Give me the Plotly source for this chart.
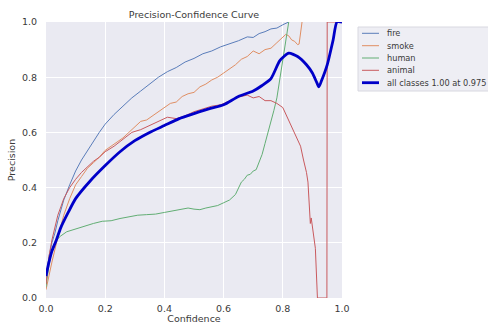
import plotly.graph_objects as go

# ---------------- data ----------------
fire_c = [0.0, 0.005, 0.01, 0.02, 0.03, 0.04, 0.05, 0.06, 0.08, 0.1, 0.12, 0.14, 0.16, 0.18, 0.2,
          0.23, 0.26, 0.29, 0.32, 0.35, 0.38, 0.41, 0.44, 0.47, 0.5, 0.53, 0.56, 0.59, 0.62, 0.65,
          0.68, 0.7, 0.72, 0.74, 0.76, 0.78, 0.8, 0.82]
fire_p = [0.07, 0.11, 0.15, 0.2, 0.235, 0.28, 0.32, 0.355, 0.41, 0.46, 0.5, 0.535, 0.57, 0.6, 0.63,
          0.665, 0.695, 0.725, 0.75, 0.775, 0.8, 0.82, 0.835, 0.855, 0.868, 0.885, 0.895, 0.91, 0.92,
          0.932, 0.946, 0.944, 0.958, 0.965, 0.975, 0.978, 0.99, 1.0]

smoke_c = [0.0, 0.005, 0.01, 0.02, 0.03, 0.04, 0.05, 0.06, 0.08, 0.1, 0.12, 0.14, 0.16, 0.18, 0.2,
           0.22, 0.24, 0.26, 0.28, 0.3, 0.32, 0.34, 0.36, 0.38, 0.4, 0.42, 0.44, 0.46, 0.48, 0.5,
           0.52, 0.54, 0.56, 0.58, 0.6, 0.62, 0.64, 0.66, 0.68, 0.7, 0.72, 0.74, 0.76, 0.78, 0.8,
           0.81, 0.82, 0.83, 0.84, 0.85, 0.855, 0.86, 0.865]
smoke_p = [0.03, 0.05, 0.08, 0.13, 0.18, 0.22, 0.26, 0.3, 0.36, 0.41, 0.44, 0.47, 0.49, 0.51, 0.535,
           0.55, 0.565, 0.58, 0.6, 0.62, 0.64, 0.645, 0.66, 0.675, 0.69, 0.705, 0.71, 0.73, 0.74,
           0.745, 0.765, 0.775, 0.79, 0.8, 0.815, 0.83, 0.845, 0.865, 0.875, 0.895, 0.885, 0.9,
           0.905, 0.925, 0.945, 0.955, 0.95, 0.935, 0.93, 0.918, 0.92, 0.96, 1.0]

human_c = [0.0, 0.005, 0.01, 0.02, 0.03, 0.04, 0.05, 0.07, 0.1, 0.13, 0.16, 0.19, 0.22, 0.25, 0.28,
           0.31, 0.34, 0.37, 0.4, 0.43, 0.46, 0.48, 0.5, 0.52, 0.54, 0.56, 0.58, 0.6, 0.62, 0.64,
           0.65, 0.66, 0.67, 0.68, 0.69, 0.7, 0.71, 0.72, 0.73, 0.74, 0.75, 0.76, 0.77, 0.78, 0.79,
           0.8, 0.81, 0.82]
human_p = [0.04, 0.08, 0.12, 0.17, 0.2, 0.215, 0.225, 0.24, 0.25, 0.262, 0.27, 0.278, 0.28, 0.288,
           0.295, 0.3, 0.302, 0.304, 0.31, 0.315, 0.32, 0.326, 0.322, 0.32, 0.326, 0.33, 0.335, 0.345,
           0.355, 0.375, 0.4, 0.42, 0.43, 0.445, 0.448, 0.46, 0.465, 0.49, 0.52, 0.56, 0.6, 0.63,
           0.68, 0.725, 0.79, 0.86, 0.93, 1.0]

animal_c = [0.0, 0.005, 0.01, 0.02, 0.03, 0.04, 0.05, 0.06, 0.08, 0.1, 0.12, 0.14, 0.16, 0.18, 0.2,
            0.23, 0.26, 0.29, 0.32, 0.35, 0.38, 0.41, 0.44, 0.47, 0.5, 0.53, 0.56, 0.59, 0.62, 0.65,
            0.68, 0.7, 0.72, 0.74, 0.76, 0.78, 0.8, 0.82, 0.84, 0.86, 0.87, 0.88, 0.885, 0.89, 0.893,
            0.896, 0.9, 0.905, 0.91, 0.917, 0.949, 0.95, 1.0]
animal_p = [0.05, 0.1, 0.15, 0.21, 0.26, 0.3, 0.33, 0.36, 0.4, 0.43, 0.455, 0.475, 0.495, 0.51, 0.53,
            0.55, 0.575, 0.6, 0.61, 0.625, 0.64, 0.655, 0.65, 0.66, 0.675, 0.685, 0.695, 0.7, 0.715,
            0.728, 0.735, 0.725, 0.73, 0.715, 0.715, 0.705, 0.69, 0.645, 0.6, 0.55, 0.5, 0.455, 0.42,
            0.34, 0.27, 0.29, 0.26, 0.22, 0.18, 0.0, 0.0, 1.0, 1.0]

all_c = [0.0, 0.01, 0.02, 0.035, 0.05, 0.075, 0.1, 0.15, 0.2, 0.25, 0.3, 0.35, 0.4, 0.45, 0.5, 0.55,
         0.6, 0.65, 0.7, 0.73, 0.76, 0.79, 0.82, 0.85, 0.88, 0.9, 0.915, 0.922, 0.93, 0.95, 0.97,
         0.983, 1.0]
all_p = [0.08, 0.13, 0.17, 0.21, 0.255, 0.31, 0.36, 0.425, 0.48, 0.53, 0.57, 0.6, 0.625, 0.65, 0.668,
         0.685, 0.7, 0.73, 0.75, 0.77, 0.795, 0.86, 0.887, 0.875, 0.845, 0.815, 0.78, 0.765, 0.785,
         0.845, 0.935, 1.0, 1.0]

class_names = ["fire", "smoke", "human", "animal"]
class_colors = ["#5A7DBA", "#E08E63", "#62AE74", "#C95A5E"]
all_label = "all classes 1.00 at 0.975"
all_color = "#0000C8"

x_ticks = [0.0, 0.2, 0.4, 0.6, 0.8, 1.0]
y_ticks = [0.0, 0.2, 0.4, 0.6, 0.8, 1.0]

# ---------------- figure ----------------
W, H = 488, 327
L, R, T, B = 46, 146, 22, 29
PW, PH = W - L - R, H - T - B
FONT = "DejaVu Sans"
TXT = "#3a3a3a"

fig = go.Figure()
series = [(fire_c, fire_p), (smoke_c, smoke_p), (human_c, human_p), (animal_c, animal_p)]
for (cx, py), name, col in zip(series, class_names, class_colors):
    fig.add_trace(go.Scatter(x=cx, y=py, mode="lines", name=name,
                             line=dict(color=col, width=1), showlegend=False))
fig.add_trace(go.Scatter(x=all_c, y=all_p, mode="lines", name=all_label,
                         line=dict(color=all_color, width=2.8, shape="spline", smoothing=0.6),
                         showlegend=False))

def px_x(p):  # pixel -> paper x
    return (p - L) / PW

def px_y(p):  # pixel -> paper y
    return (H - B - p) / PH

# manual legend (compact, like the reference)
shapes = [dict(type="rect", xref="paper", yref="paper",
               x0=px_x(358), x1=px_x(496), y0=px_y(91), y1=px_y(27),
               fillcolor="#EEEEF4", line=dict(color="#D8D8E0", width=1), layer="above")]
annotations = []
leg_names = class_names + [all_label]
leg_colors = class_colors + [all_color]
leg_widths = [1, 1, 1, 1, 2.8]
leg_y = [33.3, 45.7, 58.0, 70.3, 82.7]
for nm, col, lw, yy in zip(leg_names, leg_colors, leg_widths, leg_y):
    shapes.append(dict(type="line", xref="paper", yref="paper",
                       x0=px_x(362), x1=px_x(379), y0=px_y(yy), y1=px_y(yy),
                       line=dict(color=col, width=lw), layer="above"))
    annotations.append(dict(text=nm, xref="paper", yref="paper", x=px_x(385), y=px_y(yy),
                            xanchor="left", yanchor="middle", showarrow=False,
                            font=dict(family=FONT, size=8.2, color=TXT)))

fig.update_layout(
    width=W, height=H,
    margin=dict(l=L, r=R, t=T, b=B, pad=0),
    paper_bgcolor="white", plot_bgcolor="#EAEAF2",
    font=dict(family=FONT, size=9.5, color=TXT),
    title=dict(text="Precision-Confidence Curve", x=(194) / W, xanchor="center",
               y=1 - 14.5 / H, yanchor="middle", font=dict(size=9.5, color=TXT)),
    showlegend=False,
    shapes=shapes, annotations=annotations,
)
fig.update_xaxes(range=[0, 1], tickvals=x_ticks, ticktext=[f"{v:.1f}" for v in x_ticks],
                 showgrid=True, gridcolor="white", gridwidth=1, zeroline=False, showline=False,
                 ticks="", ticklabelstandoff=3, automargin=False,
                 title=dict(text="Confidence", standoff=2, font=dict(size=9.5)))
fig.update_yaxes(range=[0, 1], tickvals=y_ticks, ticktext=[f"{v:.1f}" for v in y_ticks],
                 showgrid=True, gridcolor="white", gridwidth=1, zeroline=False, showline=False,
                 ticks="", ticklabelstandoff=8, automargin=False,
                 title=dict(text="Precision", standoff=4, font=dict(size=9.5)))

fig.write_html("out.html")
